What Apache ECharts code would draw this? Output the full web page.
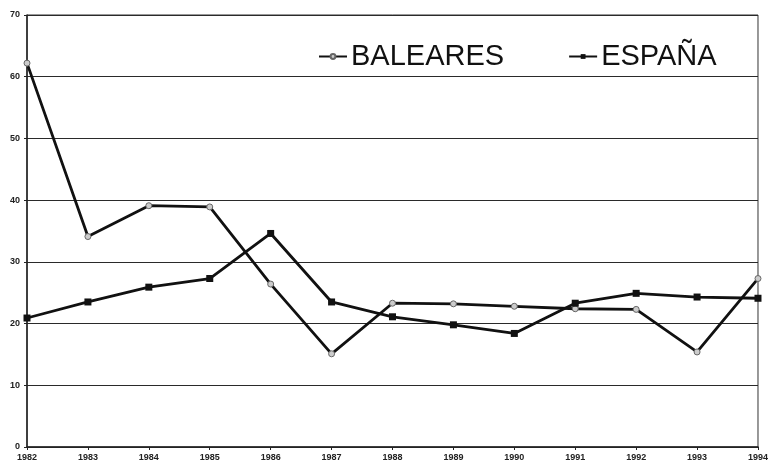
<!DOCTYPE html>
<html>
<head>
<meta charset="utf-8">
<script src="https://cdn.jsdelivr.net/npm/echarts@6/dist/echarts.min.js"></script>
<style>
  html, body { margin: 0; padding: 0; background: #fff; }
  #chart { width: 771px; height: 463px; }
</style>
</head>
<body>
<div id="chart"></div>
<script>
// años del eje X
var years = ['1982', '1983', '1984', '1985', '1986', '1987', '1988',
  '1989', '1990', '1991', '1992', '1993', '1994']
// valores
var baleares = [62.2, 34.1, 39.1, 38.9, 26.4, 15.1, 23.3, 23.2, 22.8, 22.4, 22.3, 15.4, 27.3]
var espana = [20.9, 23.5, 25.9, 27.3, 34.6, 23.5, 21.1, 19.8, 18.4, 23.3, 24.9, 24.3, 24.1]
var yTicks = [0, 10, 20, 30, 40, 50, 60, 70]

var chart = echarts.init(document.getElementById('chart'))

var lineStyle = { color: '#111', width: 2.8 }

chart.setOption({
  backgroundColor: '#fff',
  animation: false,
  textStyle: { fontFamily: 'Liberation Sans, Arial, sans-serif' },
  legend: {
    left: 318,
    top: 42,
    padding: 0,
    itemWidth: 28,
    itemHeight: 6,
    itemGap: 64,
    textStyle: { fontSize: 29, color: '#111', padding: [0, 0, 0, -1] },
    data: ['BALEARES', 'ESPAÑA']
  },
  grid: {
    left: 27,
    right: 9,
    top: 15,
    bottom: 16,
    show: true,
    borderColor: '#333',
    borderWidth: 1
  },
  xAxis: {
    type: 'category',
    data: years,
    boundaryGap: false,
    axisLine: { lineStyle: { color: '#222', width: 1.5 } },
    axisTick: { show: true, length: 3, alignWithLabel: true, lineStyle: { color: '#222' } },
    axisLabel: { fontSize: 9, fontWeight: 'bold', color: '#222', margin: 6, showMaxLabel: true, showMinLabel: true, interval: 0 },
    splitLine: { show: false }
  },
  yAxis: {
    type: 'value',
    min: yTicks[0],
    max: yTicks[yTicks.length - 1],
    interval: 10,
    axisLine: { show: true, lineStyle: { color: '#222', width: 1.5 } },
    axisTick: { show: true, length: 3, lineStyle: { color: '#222' } },
    axisLabel: { fontSize: 9, fontWeight: 'bold', color: '#222', margin: 7 },
    splitLine: { show: true, lineStyle: { color: '#2a2a2a', width: 1.2 } }
  },
  series: [
    {
      name: 'BALEARES',
      type: 'line',
      data: baleares,
      symbol: 'circle',
      symbolSize: 6,
      itemStyle: { color: '#ccc', borderColor: '#666', borderWidth: 1 },
      lineStyle: lineStyle
    },
    {
      name: 'ESPAÑA',
      type: 'line',
      data: espana,
      symbol: 'rect',
      symbolSize: 7,
      itemStyle: { color: '#111' },
      lineStyle: lineStyle
    }
  ]
})
</script>
</body>
</html>
